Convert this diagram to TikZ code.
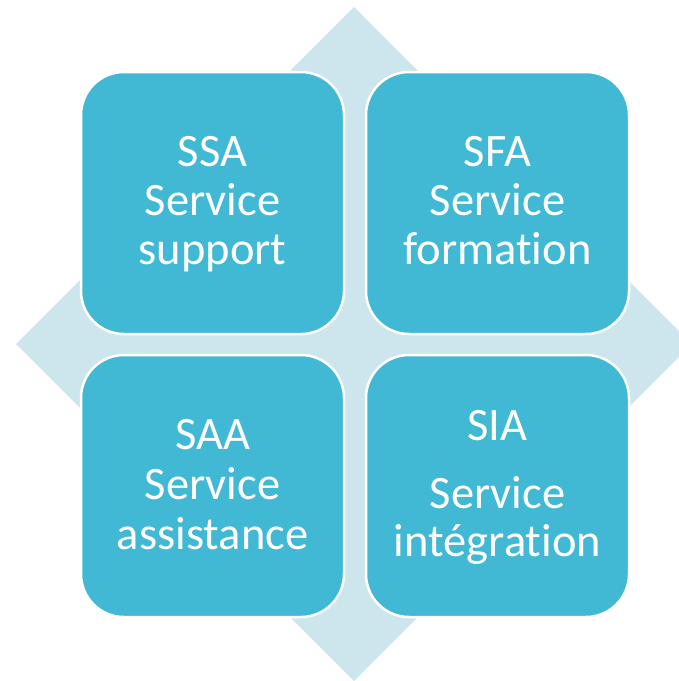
\documentclass[tikz,border=0pt]{standalone}
\usepackage{fontspec}
\setmainfont{Carlito}[Ligatures={NoCommon,NoRare}]
\definecolor{boxblue}{HTML}{41B8D4}
\definecolor{diamondblue}{HTML}{CDE5ED}
\begin{document}
\begin{tikzpicture}[x=1pt,y=-1pt,
  card/.style={draw=white,line width=2.5pt,fill=boxblue,rounded corners=43pt,
    minimum width=263pt,minimum height=262pt,inner sep=0pt},
  txt/.style={anchor=base,text=white,font=\fontsize{46.5}{50}\selectfont,inner sep=0pt}]
\useasboundingbox (0,0) rectangle (679,681);
\clip (0,0) rectangle (679,681);
\fill[diamondblue] (354,7) -- (692,344) -- (354,681) -- (16,344) -- cycle;
\node[card] (ssa) at (212.5,203) {};
\node[card] (sfa) at (497.5,203) {};
\node[card] (saa) at (212.5,486) {};
\node[card] (sia) at (497.5,486) {};
% texts
\node[txt] (ssa1) at (212.5,166) {SSA};
\node[txt] (ssa2) at (212.5,215) {Service};
\node[txt] (ssa3) at (212.5,264) {support};
\node[txt] (sfa1) at (497.5,166) {SFA};
\node[txt] (sfa2) at (497.5,215) {Service};
\node[txt] (sfa3) at (497.5,264) {formation};
\node[txt] (saa1) at (212.5,449) {SAA};
\node[txt] (saa2) at (212.5,499) {Service};
\node[txt] (saa3) at (212.5,549) {assistance};
\node[txt] (sia1) at (497.5,440) {SIA};
\node[txt] (sia2) at (497.5,508) {Service};
\node[txt] (sia3) at (497.5,556) {intégration};
\end{tikzpicture}
\end{document}
